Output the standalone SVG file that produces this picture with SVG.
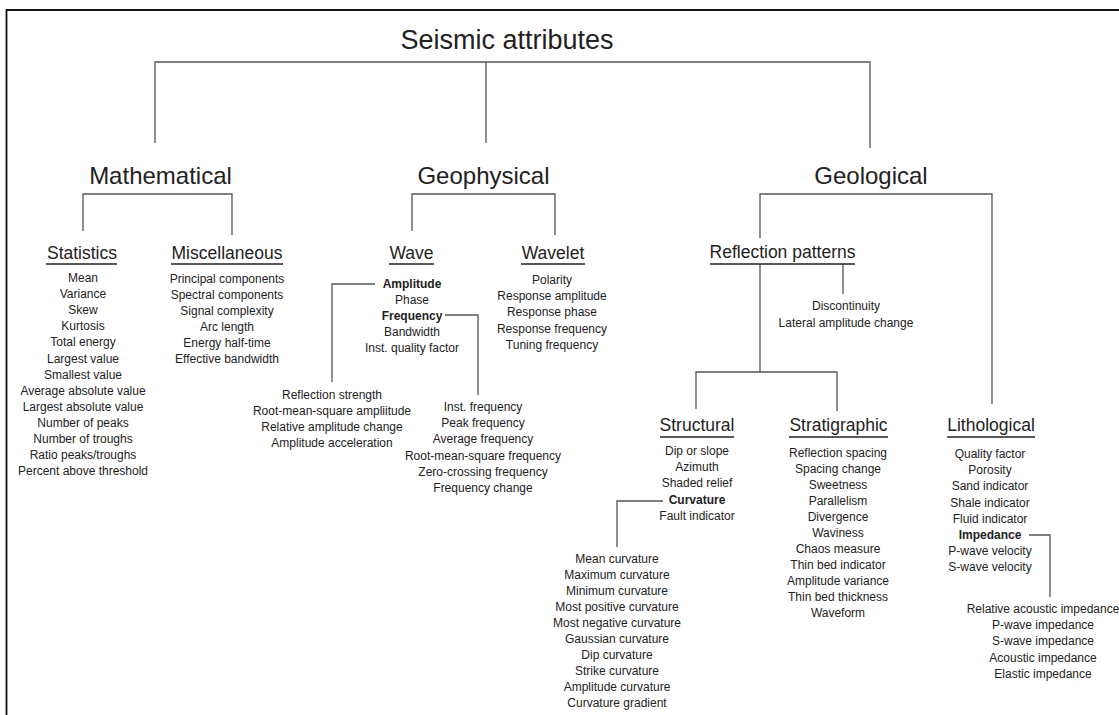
<svg xmlns="http://www.w3.org/2000/svg" width="1119" height="715" viewBox="0 0 1119 715">
<style>
text{font-family:"Liberation Sans",Arial,sans-serif;fill:#222;text-anchor:middle}
.t0{font-size:27px}
.t1{font-size:24px}
.t2{font-size:17.5px}
.it{font-size:12px}
.b{font-weight:bold}
.ul{stroke:#222;stroke-width:1.6}
.c{fill:none;stroke:#555;stroke-width:1.3}
</style>
<rect width="1119" height="715" fill="#fff"/>
<path d="M6.5,715 V10 H1119" fill="none" stroke="#111" stroke-width="1.8"/>
<g id="connectors">
<path class="c" d="M155,143 V62 H870 V148 M486,62 V143"/>
<path class="c" d="M83,231 V194 H232 V235"/>
<path class="c" d="M412,231 V194 H555 V235"/>
<path class="c" d="M760,238 V194 H992 V404"/>
<path class="c" d="M760,264 V372 M843,264 V294"/>
<path class="c" d="M696,409 V372 H837 V411"/>
<path class="c" d="M375,284 H332 V382"/>
<path class="c" d="M445,315 H478 V395"/>
<path class="c" d="M663,501 H617 V547"/>
<path class="c" d="M1029,535 H1050 V597"/>
</g>
<g id="root"><text class="t0" x="507" y="49">Seismic attributes</text></g>
<g id="mathematical"><text class="t1" x="160.5" y="184">Mathematical</text></g>
<g id="geophysical"><text class="t1" x="483.5" y="184">Geophysical</text></g>
<g id="geological"><text class="t1" x="871" y="184">Geological</text></g>
<g id="statistics">
<text class="t2" x="82" y="259">Statistics</text>
<line class="ul" x1="46" y1="264" x2="117" y2="264"/>
<text class="it" x="83" y="282"><tspan x="83">Mean</tspan><tspan x="83" dy="16.1">Variance</tspan><tspan x="83" dy="16.1">Skew</tspan><tspan x="83" dy="16.1">Kurtosis</tspan><tspan x="83" dy="16.1">Total energy</tspan><tspan x="83" dy="16.1">Largest value</tspan><tspan x="83" dy="16.1">Smallest value</tspan><tspan x="83" dy="16.1">Average absolute value</tspan><tspan x="83" dy="16.1">Largest absolute value</tspan><tspan x="83" dy="16.1">Number of peaks</tspan><tspan x="83" dy="16.1">Number of troughs</tspan><tspan x="83" dy="16.1">Ratio peaks/troughs</tspan><tspan x="83" dy="16.1">Percent above threshold</tspan></text>
</g>
<g id="miscellaneous">
<text class="t2" x="227" y="259">Miscellaneous</text>
<line class="ul" x1="171" y1="264" x2="283" y2="264"/>
<text class="it" x="227" y="283"><tspan x="227">Principal components</tspan><tspan x="227" dy="16">Spectral components</tspan><tspan x="227" dy="16">Signal complexity</tspan><tspan x="227" dy="16">Arc length</tspan><tspan x="227" dy="16">Energy half-time</tspan><tspan x="227" dy="16">Effective bandwidth</tspan></text>
</g>
<g id="wave">
<text class="t2" x="411.5" y="259">Wave</text>
<line class="ul" x1="389" y1="264" x2="434" y2="264"/>
<text class="it" x="412" y="288"><tspan x="412" class="b">Amplitude</tspan><tspan x="412" dy="16">Phase</tspan><tspan x="412" dy="16" class="b">Frequency</tspan><tspan x="412" dy="16">Bandwidth</tspan><tspan x="412" dy="16">Inst. quality factor</tspan></text>
</g>
<g id="amplitude-attrs">
<text class="it" x="332" y="399"><tspan x="332">Reflection strength</tspan><tspan x="332" dy="16">Root-mean-square ampliitude</tspan><tspan x="332" dy="16">Relative amplitude change</tspan><tspan x="332" dy="16">Amplitude acceleration</tspan></text>
</g>
<g id="frequency-attrs">
<text class="it" x="483" y="411"><tspan x="483">Inst. frequency</tspan><tspan x="483" dy="16.2">Peak frequency</tspan><tspan x="483" dy="16.2">Average frequency</tspan><tspan x="483" dy="16.2">Root-mean-square frequency</tspan><tspan x="483" dy="16.2">Zero-crossing frequency</tspan><tspan x="483" dy="16.2">Frequency change</tspan></text>
</g>
<g id="wavelet">
<text class="t2" x="553" y="259">Wavelet</text>
<line class="ul" x1="521" y1="264" x2="585" y2="264"/>
<text class="it" x="552" y="284"><tspan x="552">Polarity</tspan><tspan x="552" dy="16.2">Response amplitude</tspan><tspan x="552" dy="16.2">Response phase</tspan><tspan x="552" dy="16.2">Response frequency</tspan><tspan x="552" dy="16.2">Tuning frequency</tspan></text>
</g>
<g id="reflection-patterns">
<text class="t2" x="782.5" y="258">Reflection patterns</text>
<line class="ul" x1="710" y1="264" x2="855" y2="264"/>
</g>
<g id="discontinuity">
<text class="it" x="846" y="310"><tspan x="846">Discontinuity</tspan><tspan x="846" dy="16.5">Lateral amplitude change</tspan></text>
</g>
<g id="structural">
<text class="t2" x="697" y="431">Structural</text>
<line class="ul" x1="660" y1="437" x2="734" y2="437"/>
<text class="it" x="697" y="455"><tspan x="697">Dip or slope</tspan><tspan x="697" dy="16.2">Azimuth</tspan><tspan x="697" dy="16.2">Shaded relief</tspan><tspan x="697" dy="16.2" class="b">Curvature</tspan><tspan x="697" dy="16.2">Fault indicator</tspan></text>
</g>
<g id="curvature-attrs">
<text class="it" x="617" y="563"><tspan x="617">Mean curvature</tspan><tspan x="617" dy="16">Maximum curvature</tspan><tspan x="617" dy="16">Minimum curvature</tspan><tspan x="617" dy="16">Most positive curvature</tspan><tspan x="617" dy="16">Most negative curvature</tspan><tspan x="617" dy="16">Gaussian curvature</tspan><tspan x="617" dy="16">Dip curvature</tspan><tspan x="617" dy="16">Strike curvature</tspan><tspan x="617" dy="16">Amplitude curvature</tspan><tspan x="617" dy="16">Curvature gradient</tspan></text>
</g>
<g id="stratigraphic">
<text class="t2" x="838.5" y="431">Stratigraphic</text>
<line class="ul" x1="789" y1="437" x2="888" y2="437"/>
<text class="it" x="838" y="457"><tspan x="838">Reflection spacing</tspan><tspan x="838" dy="16">Spacing change</tspan><tspan x="838" dy="16">Sweetness</tspan><tspan x="838" dy="16">Parallelism</tspan><tspan x="838" dy="16">Divergence</tspan><tspan x="838" dy="16">Waviness</tspan><tspan x="838" dy="16">Chaos measure</tspan><tspan x="838" dy="16">Thin bed indicator</tspan><tspan x="838" dy="16">Amplitude variance</tspan><tspan x="838" dy="16">Thin bed thickness</tspan><tspan x="838" dy="16">Waveform</tspan></text>
</g>
<g id="lithological">
<text class="t2" x="991" y="431">Lithological</text>
<line class="ul" x1="947" y1="437" x2="1035" y2="437"/>
<text class="it" x="990" y="458"><tspan x="990">Quality factor</tspan><tspan x="990" dy="16.2">Porosity</tspan><tspan x="990" dy="16.2">Sand indicator</tspan><tspan x="990" dy="16.2">Shale indicator</tspan><tspan x="990" dy="16.2">Fluid indicator</tspan><tspan x="990" dy="16.2" class="b">Impedance</tspan><tspan x="990" dy="16.2">P-wave velocity</tspan><tspan x="990" dy="16.2">S-wave velocity</tspan></text>
</g>
<g id="impedance-attrs">
<text class="it" x="1043" y="613"><tspan x="1043">Relative acoustic impedance</tspan><tspan x="1043" dy="16.2">P-wave impedance</tspan><tspan x="1043" dy="16.2">S-wave impedance</tspan><tspan x="1043" dy="16.2">Acoustic impedance</tspan><tspan x="1043" dy="16.2">Elastic impedance</tspan></text>
</g>
</svg>
